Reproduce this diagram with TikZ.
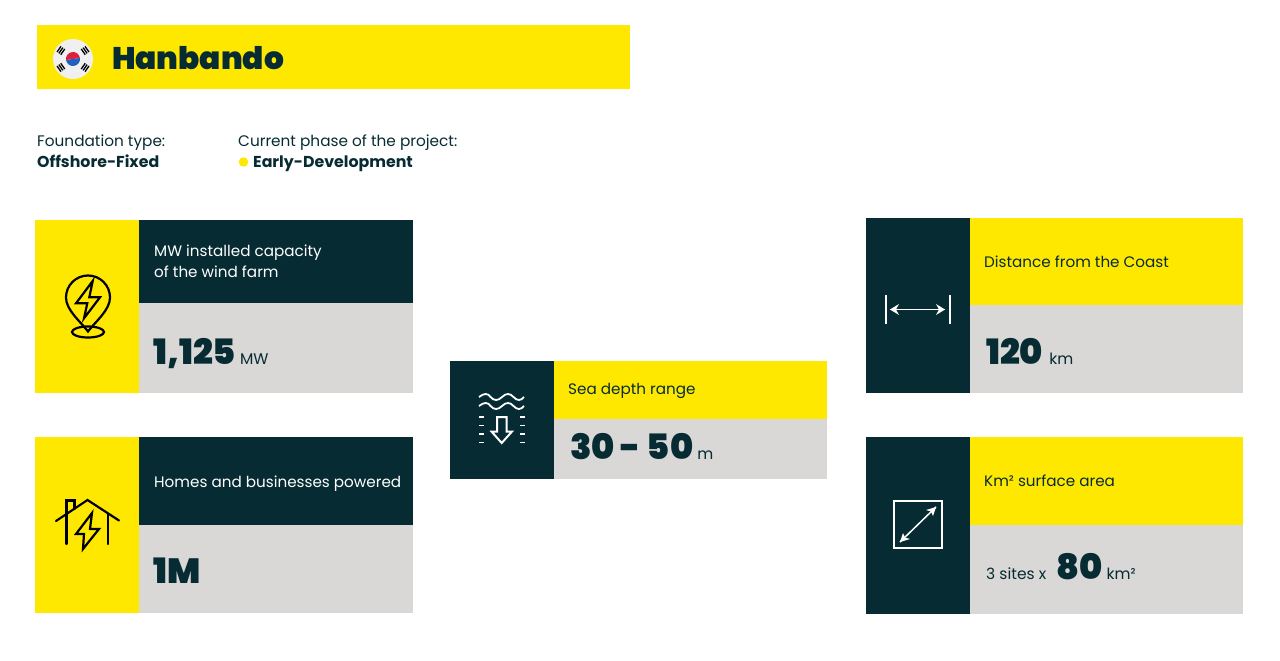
\documentclass[tikz,border=0pt]{standalone}
\usepackage{fontspec}
\setmainfont{Poppins}
\newfontfamily\heavyfont[UprightFont=* Black]{Poppins}
\newfontfamily\boldfont[UprightFont=* Bold]{Poppins}
\usetikzlibrary{calc}
\definecolor{wfyellow}{HTML}{FFE800}
\definecolor{wfdark}{HTML}{072B33}
\definecolor{wfgrey}{HTML}{D9D8D6}
\definecolor{flagred}{HTML}{E0203A}
\definecolor{flagblue}{HTML}{2060C0}
\tikzset{
  tile/.style={anchor=north west,inner sep=0pt,outer sep=0pt,minimum width=#1},
  headtext/.style={anchor=west,inner sep=0pt,align=left,font=\fontsize{15.2}{21}\selectfont},
  valtext/.style={anchor=base west,inner sep=0pt,text=wfdark,font=\fontsize{15.5}{19}\selectfont},
  plain/.style={anchor=base west,inner sep=0pt,text=wfdark,font=\fontsize{15.3}{19}\selectfont},
  strong/.style={plain,font=\boldfont\fontsize{15.8}{19}\selectfont},
  icon/.style={line width=2.2pt,line cap=round,line join=miter},
}
\newcommand{\bignum}[1]{{\heavyfont\fontsize{35}{35}\selectfont #1}}
\begin{document}
\begin{tikzpicture}[x=1pt,y=-1pt]
\useasboundingbox (0,0) rectangle (1280,661);
% banner
\node[tile=593pt,minimum height=64pt,fill=wfyellow] (banner) at (37,25) {};
\node[anchor=base west,inner sep=0pt,text=wfdark,font=\heavyfont\fontsize{31.2}{33}\selectfont] (title) at (112,69.5) {Hanbando};
\node[circle,fill=white!94!black,minimum size=40pt,inner sep=0pt] (flag) at (73,59) {};
\begin{scope}[rotate around={8:(73,59)}]
\fill[flagred] (66,59) arc (180:360:7) -- cycle;
\fill[flagblue] (66,59) arc (180:0:7) -- cycle;
\end{scope}
\foreach \a in {35,145,215,325} {
  \foreach \r in {12.5,14.8,17.1}
    \draw[black,line width=1.3pt] ($(73,59)+(\a:\r)+(\a+90:3.5)$) -- ($(73,59)+(\a:\r)+(\a-90:3.5)$);
}
% project info
\node[plain] (foundlabel) at (37,146) {Foundation type:};
\node[strong] (foundval) at (37,167) {Offshore-Fixed};
\node[plain] (phaselabel) at (238,146) {Current phase of the project:};
\node[circle,fill=wfyellow,minimum size=9.5pt,inner sep=0pt] (phasedot) at (243.5,162) {};
\node[strong] (phaseval) at (253,167) {Early-Development};
% capacity
\node[tile=104pt,minimum height=173pt,fill=wfyellow] (capicon) at (35,220) {};
\node[tile=274pt,minimum height=83pt,fill=wfdark] (caphead) at (139,220) {};
\node[tile=274pt,minimum height=90pt,fill=wfgrey] (capval) at (139,303) {};
\node[headtext,text=white,xshift=15pt] (caplabel) at (caphead.west) {MW installed capacity\\of the wind farm};
\node[valtext] (capnum) at (153,364) {\bignum{1,125} MW};
\draw[icon] (88,331.5) .. controls (80,321) and (66,310) .. (66,297.5) arc (180:360:22) .. controls (110,310) and (96,321) .. (88,331.5) -- cycle;
\draw[icon] (88,332) ellipse (16 and 5.5);
\draw[icon] (92.7,281) -- (76,303.3) -- (87.3,303.3) -- (84,318.3) -- (100,297.3) -- (89.3,297.3) -- cycle;
% homes
\node[tile=104pt,minimum height=176pt,fill=wfyellow] (homeicon) at (35,437) {};
\node[tile=274pt,minimum height=88pt,fill=wfdark] (homehead) at (139,437) {};
\node[tile=274pt,minimum height=88pt,fill=wfgrey] (homeval) at (139,525) {};
\node[headtext,text=white,xshift=15pt,yshift=-3pt] (homelabel) at (homehead.west) {Homes and businesses powered};
\node[valtext] (homenum) at (153,583) {\bignum{1M}};
\draw[icon] (56,521) -- (87.5,500) -- (119,520.5);
\draw[icon] (66.5,544) -- (66.5,500.5) -- (74.5,500.5) -- (74.5,509);
\draw[icon] (108,514) -- (108,544);
\draw[icon] (92,513) -- (76,534) -- (84,534) -- (83,549) -- (99,529) -- (90,529) -- cycle;
% depth
\node[tile=104pt,minimum height=118pt,fill=wfdark] (depthicon) at (450,361) {};
\node[tile=273pt,minimum height=58pt,fill=wfyellow] (depthhead) at (554,361) {};
\node[tile=273pt,minimum height=60pt,fill=wfgrey] (depthval) at (554,419) {};
\node[headtext,text=wfdark,xshift=14pt,yshift=-1pt] (depthlabel) at (depthhead.west) {Sea depth range};
\node[valtext] (depthnum) at (570,459) {\bignum{30 - 50} m};
\foreach \y in {397,406}
  \draw[white,line width=1.8pt] (479,\y) .. controls (484,\y-4) and (488,\y-4) .. (490.5,\y) .. controls (494,\y+4) and (498,\y+4) .. (502,\y) .. controls (506,\y-4) and (510,\y-4) .. (513.5,\y) .. controls (517,\y+4) and (521,\y+4) .. (524,\y);
\foreach \y in {417,425.5,434,442.5} {
  \draw[white,line width=1.8pt] (479,\y) -- (483.5,\y);
  \draw[white,line width=1.8pt] (520,\y) -- (524.5,\y);
}
\draw[white,line width=2pt,line join=miter] (497,417) -- (506.5,417) -- (506.5,431.5) -- (512,431.5) -- (501.7,443) -- (491.5,431.5) -- (497,431.5) -- cycle;
% distance
\node[tile=104pt,minimum height=175pt,fill=wfdark] (disticon) at (866,218) {};
\node[tile=273pt,minimum height=87pt,fill=wfyellow] (disthead) at (970,218) {};
\node[tile=273pt,minimum height=88pt,fill=wfgrey] (distval) at (970,305) {};
\node[headtext,text=wfdark,xshift=14pt] (distlabel) at (disthead.west) {Distance from the Coast};
\node[valtext] (distnum) at (986,364) {\bignum{120}\hspace{2pt} km};
\draw[white,line width=2pt] (885.5,295) -- (885.5,323.5);
\draw[white,line width=2pt] (949.5,295) -- (949.5,323.5);
\coordinate (distl) at (890,309.5);
\coordinate (distr) at (945,309.5);
\draw[white,line width=1.5pt] (distl) -- (distr);
\fill[white] (distl) -- (899,304) -- (896,309.5) -- (899,315) -- cycle;
\fill[white] (distr) -- (936,304) -- (939,309.5) -- (936,315) -- cycle;
% surface
\node[tile=104pt,minimum height=177pt,fill=wfdark] (areaicon) at (866,437) {};
\node[tile=273pt,minimum height=88pt,fill=wfyellow] (areahead) at (970,437) {};
\node[tile=273pt,minimum height=89pt,fill=wfgrey] (areaval) at (970,525) {};
\node[headtext,text=wfdark,xshift=14pt] (arealabel) at (areahead.west) {Km² surface area};
\node[valtext] (areanum) at (986,579) {3 sites x\hspace{10pt}\bignum{80} km²};
\draw[white,line width=2pt] (894,501) rectangle (941.5,548);
\coordinate (areal) at (900,542);
\coordinate (arear) at (936,507);
\draw[white,line width=1.5pt] (areal) -- (arear);
\fill[white] (areal) -- (903,533) -- (905,537.5) -- (910,539) -- cycle;
\fill[white] (arear) -- (933,516) -- (931,511.5) -- (926,510) -- cycle;
\end{tikzpicture}
\end{document}
